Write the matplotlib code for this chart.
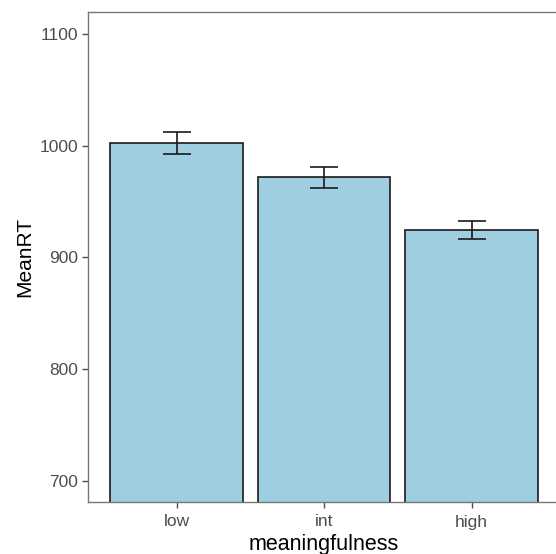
import matplotlib.pyplot as plt
import numpy as np

plt.rcParams['font.family'] = ['Liberation Sans', 'DejaVu Sans']

groups = ['low', 'int', 'high']
mean_rt = [1002.5, 972.0, 924.3]
err_lo = [992.9, 962.5, 916.7]
err_hi = [1012.3, 981.0, 932.4]

x = np.arange(1, len(groups) + 1)
yerr = [np.array(mean_rt) - np.array(err_lo), np.array(err_hi) - np.array(mean_rt)]

fig = plt.figure(figsize=(5.56, 5.54), dpi=100)
W, H = 556, 554
ax = fig.add_axes([88 / W, (H - 502) / H, (560 - 88) / W, (502 - 12) / H])

ax.bar(x, mean_rt, width=0.9, color='#9ecee0', edgecolor='#1a1a1a', linewidth=1.2, zorder=2)
ax.errorbar(x, mean_rt, yerr=yerr, fmt='none', ecolor='#1a1a1a', elinewidth=1.2,
            capsize=10, capthick=1.2, zorder=3)

ax.set_xlim(0.4, 3.6)
ax.set_ylim(681.2, 1119.6)
ax.set_xticks(x)
ax.set_xticklabels(groups)
ax.set_yticks([700, 800, 900, 1000, 1100])

for s in ax.spines.values():
    s.set_color('#777777')
    s.set_linewidth(1.0)

ax.tick_params(axis='both', colors='#4d4d4d', labelsize=12.5, length=4, width=1.0,
               direction='out', pad=3)
ax.tick_params(axis='x', pad=5)

ax.set_xlabel('meaningfulness', fontsize=15.5, color='black', labelpad=3)
ax.set_ylabel('MeanRT', fontsize=15, color='black', labelpad=4)

fig.savefig('out.png', dpi=100)
